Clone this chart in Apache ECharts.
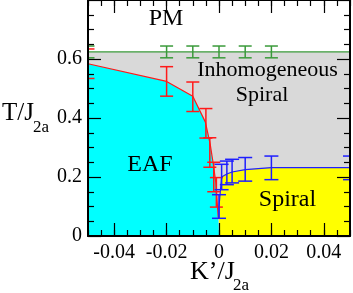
<!DOCTYPE html>
<html><head><meta charset="utf-8">
<script src="https://cdn.jsdelivr.net/npm/echarts@6/dist/echarts.min.js"></script>
<style>html,body{margin:0;padding:0;background:#fff}#c{width:353px;height:293px}</style>
</head><body><div id="c"></div>
<script>
// ---- data ----
const xTickLabels = [-0.04, -0.02, 0, 0.02, 0.04];
const yTickLabels = [0, 0.2, 0.4, 0.6];

// PM / inhomogeneous boundary (green)
const greenLineK = [-0.05, -0.02, -0.01, 0, 0.01, 0.02, 0.05];
const greenLineT = [0.624, 0.624, 0.624, 0.624, 0.624, 0.624, 0.624];
const greenBarK = [-0.05, -0.02, -0.01, 0, 0.01, 0.02];
const greenBarT = [0.624, 0.624, 0.624, 0.624, 0.624, 0.624];
const greenBarErr = [0.02, 0.02, 0.02, 0.02, 0.02, 0.02];

// EAF boundary (red)
const redLineK = [-0.05, -0.02, -0.01, -0.0052, -0.0034, -0.0022, -0.0012, -0.0003, 0];
const redLineT = [0.584, 0.524, 0.474, 0.386, 0.313, 0.245, 0.18, 0.064, 0.06];
const redBarK = [-0.05, -0.02, -0.01, -0.005, -0.0035, -0.002, -0.001];
const redBarT = [0.584, 0.524, 0.472, 0.382, 0.283, 0.2, 0.148];
const redBarErr = [0.05, 0.05, 0.05, 0.05, 0.05, 0.05, 0.05];

// Spiral boundary (blue)
const blueLineK = [0, 0, 0.001, 0.003, 0.005, 0.01, 0.02, 0.05];
const blueLineT = [0.06, 0.10, 0.20, 0.21, 0.217, 0.225, 0.232, 0.232];
const blueBarK = [0, 0.001, 0.003, 0.005, 0.01, 0.02, 0.05];
const blueBarT = [0.10, 0.20, 0.214, 0.22, 0.226, 0.231, 0.231];
const blueBarErr = [0.04, 0.043, 0.04, 0.04, 0.04, 0.04, 0.04];

// ---- chart ----
const FONT = '"Liberation Serif","Times New Roman",serif';
const zip2 = (a, b) => a.map((v, i) => [v, b[i]]);
const zip3 = (a, b, c) => a.map((v, i) => [v, b[i], c[i]]);

function errBar(color, hw) {
  return function (params, api) {
    const x = api.value(0), y = api.value(1), e = api.value(2);
    const t = api.coord([x, y + e]);
    const b = api.coord([x, y - e]);
    const st = { stroke: color, lineWidth: 1.5 };
    return {
      type: 'group', children: [
        { type: 'line', shape: { x1: t[0], y1: t[1], x2: b[0], y2: b[1] }, style: st },
        { type: 'line', shape: { x1: t[0] - hw, y1: t[1], x2: t[0] + hw, y2: t[1] }, style: st },
        { type: 'line', shape: { x1: b[0] - hw, y1: b[1], x2: b[0] + hw, y2: b[1] }, style: st }
      ]
    };
  };
}

const black = '#000';
function xMinor(pos) {
  return {
    type: 'value', position: pos, min: -0.05, max: 0.05, interval: 0.005, z: 10,
    axisLine: { show: true, onZero: false, lineStyle: { color: black, width: 2 } },
    axisTick: { show: true, inside: true, length: 6, lineStyle: { color: black, width: 1.2 } },
    axisLabel: { show: false }, splitLine: { show: false }
  };
}
function xMajor(pos, labels) {
  return {
    type: 'value', position: pos, min: -0.05, max: 0.05, z: 10,
    axisLine: { show: false, onZero: false },
    axisTick: { show: true, inside: true, length: 13, customValues: xTickLabels, lineStyle: { color: black, width: 1.2 } },
    axisLabel: {
      show: labels, customValues: xTickLabels, fontSize: 20, fontFamily: FONT, color: black, margin: 7,
      formatter: v => (Math.abs(v) < 1e-9 ? '0' : String(+v.toFixed(2)))
    },
    splitLine: { show: false }
  };
}
function yAx(pos, labels) {
  return {
    type: 'value', position: pos, min: 0, max: 0.8, interval: 0.2, z: 10,
    axisLine: { show: true, onZero: false, lineStyle: { color: black, width: 2 } },
    axisTick: { show: true, inside: true, length: 13, lineStyle: { color: black, width: 1.2 } },
    minorTick: { show: true, splitNumber: 4, length: 6, lineStyle: { color: black, width: 1.2 } },
    axisLabel: {
      show: labels, showMaxLabel: false, fontSize: 20, fontFamily: FONT, color: black, margin: 6,
      formatter: v => (yTickLabels.some(t => Math.abs(t - v) < 1e-9) ? String(+v.toFixed(1)) : '')
    },
    splitLine: { show: false }
  };
}

const chart = echarts.init(document.getElementById('c'), null, { renderer: 'canvas' });
chart.setOption({
  animation: false,
  backgroundColor: '#fff',
  grid: { left: 88, right: 3, top: 0, bottom: 57, containLabel: false },
  xAxis: [xMinor('bottom'), xMajor('bottom', true), xMinor('top'), xMajor('top', false)],
  yAxis: [yAx('left', true), yAx('right', false)],
  series: [
    {
      type: 'line', data: zip2(greenLineK, greenLineT), symbol: 'none', z: 1,
      lineStyle: { color: '#3a9a3a', width: 1.3 }, areaStyle: { color: '#d9d9d9', opacity: 1 }
    },
    {
      type: 'line', data: zip2(redLineK, redLineT), symbol: 'none', z: 2,
      lineStyle: { color: '#ff1a1a', width: 1.2 }, areaStyle: { color: '#00ffff', opacity: 1 }
    },
    {
      type: 'line', data: zip2(blueLineK, blueLineT), symbol: 'none', z: 2,
      lineStyle: { color: '#1f1fff', width: 1.2 }, areaStyle: { color: '#ffff00', opacity: 1 }
    },
    { type: 'custom', clip: true, z: 5, data: zip3(greenBarK, greenBarT, greenBarErr), renderItem: errBar('#3a9a3a', 6.5) },
    { type: 'custom', clip: true, z: 5, data: zip3(redBarK, redBarT, redBarErr), renderItem: errBar('#ff1a1a', 6.5) },
    { type: 'custom', clip: true, z: 5, data: zip3(blueBarK, blueBarT, blueBarErr), renderItem: errBar('#1f1fff', 7) }
  ],
  graphic: [
    { type: 'text', x: 166, y: 18.5, z: 20, style: { text: 'PM', fontSize: 24, fontFamily: FONT, fill: black, align: 'center', verticalAlign: 'middle' } },
    { type: 'text', x: 267.5, y: 70, z: 20, style: { text: 'Inhomogeneous', fontSize: 22, fontFamily: FONT, fill: black, align: 'center', verticalAlign: 'middle' } },
    { type: 'text', x: 262, y: 95, z: 20, style: { text: 'Spiral', fontSize: 22, fontFamily: FONT, fill: black, align: 'center', verticalAlign: 'middle' } },
    { type: 'text', x: 150, y: 165, z: 20, style: { text: 'EAF', fontSize: 24, fontFamily: FONT, fill: black, align: 'center', verticalAlign: 'middle' } },
    { type: 'text', x: 287.5, y: 200, z: 20, style: { text: 'Spiral', fontSize: 24, fontFamily: FONT, fill: black, align: 'center', verticalAlign: 'middle' } },
    { type: 'text', x: 2, y: 113.5, z: 20, style: { text: 'T/J', fontSize: 25, fontFamily: FONT, fill: black, align: 'left', verticalAlign: 'middle' } },
    { type: 'text', x: 33, y: 127.5, z: 20, style: { text: '2a', fontSize: 17, fontFamily: FONT, fill: black, align: 'left', verticalAlign: 'middle' } },
    { type: 'text', x: 190, y: 272, z: 20, style: { text: 'K’/J', fontSize: 26, fontFamily: FONT, fill: black, align: 'left', verticalAlign: 'middle' } },
    { type: 'text', x: 233, y: 286, z: 20, style: { text: '2a', fontSize: 17, fontFamily: FONT, fill: black, align: 'left', verticalAlign: 'middle' } }
  ]
});
</script>
</body></html>
